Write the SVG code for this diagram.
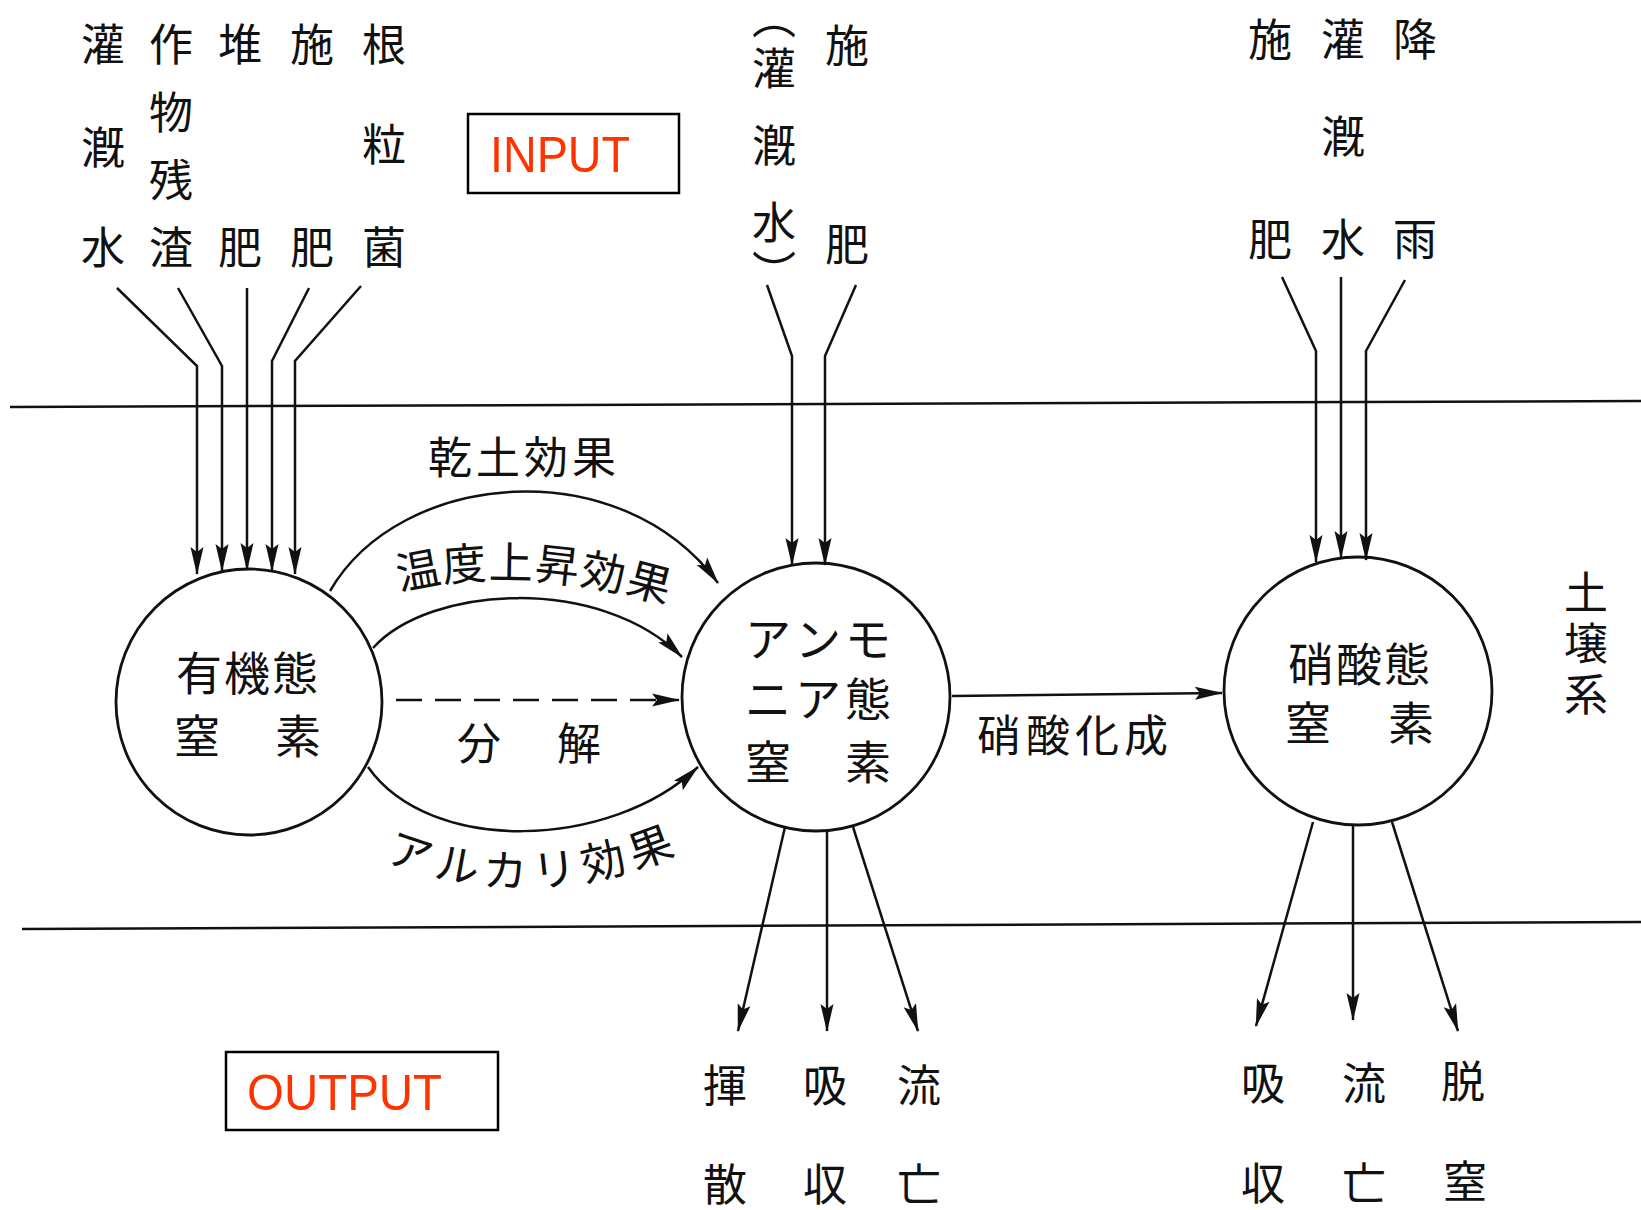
<svg xmlns="http://www.w3.org/2000/svg" width="1641" height="1210" viewBox="0 0 1641 1210">
<style>
.jp { font-family: "Noto Sans CJK JP", "Noto Sans CJK SC", sans-serif; fill: #111; text-anchor: middle; dominant-baseline: central; font-size: 44px; }
.big { font-size: 46px; }
.circ { fill: none; stroke: #111; stroke-width: 2.8; }
.ln { fill: none; stroke: #111; stroke-width: 2.5; }
.arr { marker-end: url(#ah); }
.dash { stroke-dasharray: 26 13; }
.box { fill: none; stroke: #000; stroke-width: 2.5; }
.red { font-family: "Liberation Sans", Arial, sans-serif; fill: #FF3300; font-size: 50px; }
</style>
<defs>
<marker id="ah" markerUnits="userSpaceOnUse" markerWidth="30" markerHeight="16" refX="27" refY="8" orient="auto">
<path d="M0,1.5 L28,8 L0,14.5 L5,8 z" fill="#111"/>
</marker>
<path id="pTemp" d="M385,575 Q520,538 685,590"/>
<path id="pAlk" d="M385,840 Q525,900 680,832"/>
</defs>
<rect width="1641" height="1210" fill="#fff"/>

<g id="soil-boundaries">
<line class="ln" x1="10" y1="407" x2="1641" y2="401"/>
<line class="ln" x1="22" y1="929" x2="1641" y2="922"/>
</g>

<g id="input-label-box">
<rect class="box" x="468" y="114" width="211" height="79"/>
<text class="red" x="490" y="172" textLength="140" lengthAdjust="spacingAndGlyphs">INPUT</text>
</g>
<g id="output-label-box">
<rect class="box" x="226" y="1052" width="272" height="78"/>
<text class="red" x="247" y="1110" textLength="195" lengthAdjust="spacingAndGlyphs">OUTPUT</text>
</g>

<g id="inputs-organic">
<text class="jp" x="103" y="42">灌</text>
<text class="jp" x="103" y="145">漑</text>
<text class="jp" x="103" y="245">水</text>
<text class="jp" x="171" y="42">作</text>
<text class="jp" x="171" y="110">物</text>
<text class="jp" x="171" y="178">残</text>
<text class="jp" x="171" y="245">渣</text>
<text class="jp" x="240" y="42">堆</text>
<text class="jp" x="240" y="245">肥</text>
<text class="jp" x="312" y="42">施</text>
<text class="jp" x="312" y="245">肥</text>
<text class="jp" x="384" y="42">根</text>
<text class="jp" x="384" y="142">粒</text>
<text class="jp" x="384" y="245">菌</text>
</g>

<g id="inputs-ammonium">
<text class="jp" x="774" y="15">︵</text>
<text class="jp" x="774" y="66">灌</text>
<text class="jp" x="774" y="143">漑</text>
<text class="jp" x="774" y="220">水</text>
<text class="jp" x="774" y="270">︶</text>
<text class="jp" x="847" y="43">施</text>
<text class="jp" x="847" y="242">肥</text>
</g>

<g id="inputs-nitrate">
<text class="jp" x="1270" y="37">施</text>
<text class="jp" x="1270" y="237">肥</text>
<text class="jp" x="1343" y="37">灌</text>
<text class="jp" x="1343" y="134">漑</text>
<text class="jp" x="1343" y="237">水</text>
<text class="jp" x="1415" y="37">降</text>
<text class="jp" x="1415" y="237">雨</text>
</g>

<g id="node-organic-n">
<circle class="circ" cx="249" cy="702" r="133"/>
<text class="jp big" x="248" y="670" letter-spacing="2">有機態</text>
<text class="jp big" x="197" y="733">窒</text>
<text class="jp big" x="298" y="733">素</text>
</g>

<g id="node-ammonium-n">
<circle class="circ" cx="816" cy="697" r="134"/>
<text class="jp big" x="768" y="636">ア</text>
<text class="jp big" x="818" y="636">ン</text>
<text class="jp big" x="868" y="636">モ</text>
<text class="jp big" x="768" y="696">ニ</text>
<text class="jp big" x="818" y="696">ア</text>
<text class="jp big" x="868" y="696">態</text>
<text class="jp big" x="768" y="759">窒</text>
<text class="jp big" x="868" y="759">素</text>
</g>

<g id="node-nitrate-n">
<circle class="circ" cx="1358" cy="691" r="134"/>
<text class="jp big" x="1360" y="661" letter-spacing="2">硝酸態</text>
<text class="jp big" x="1308" y="720">窒</text>
<text class="jp big" x="1411" y="720">素</text>
</g>

<g id="soil-system-label">
<text class="jp" x="1586" y="590" font-size="38">土</text>
<text class="jp" x="1586" y="641" font-size="38">壌</text>
<text class="jp" x="1586" y="692" font-size="38">系</text>
</g>

<g id="outputs-ammonium">
<text class="jp" x="725" y="1083">揮</text>
<text class="jp" x="725" y="1182">散</text>
<text class="jp" x="825" y="1083">吸</text>
<text class="jp" x="825" y="1182">収</text>
<text class="jp" x="919" y="1083">流</text>
<text class="jp" x="919" y="1182">亡</text>
</g>

<g id="outputs-nitrate">
<text class="jp" x="1263" y="1081">吸</text>
<text class="jp" x="1263" y="1181">収</text>
<text class="jp" x="1364" y="1081">流</text>
<text class="jp" x="1364" y="1181">亡</text>
<text class="jp" x="1463" y="1079">脱</text>
<text class="jp" x="1465" y="1179">窒</text>
</g>

<g id="connectors">
<polyline class="ln arr" points="117,288 197,366 197,574"/>
<polyline class="ln arr" points="178,288 222,366 222,571"/>
<polyline class="ln arr" points="247,288 247,570"/>
<polyline class="ln arr" points="309,288 272,361 272,571"/>
<polyline class="ln arr" points="361,286 295,361 295,574"/>

<polyline class="ln arr" points="767,285 792,356 792,565"/>
<polyline class="ln arr" points="856,285 825,356 825,565"/>

<polyline class="ln arr" points="1282,277 1316,351 1316,562"/>
<polyline class="ln arr" points="1341,277 1341,558"/>
<polyline class="ln arr" points="1405,280 1366,351 1366,560"/>

<path class="ln arr" d="M330,591 C400,470 620,450 718,583"/>
<path class="ln arr" d="M373,648 C430,585 600,575 682,657"/>
<line class="ln dash arr" x1="396" y1="700" x2="679" y2="700"/>
<path class="ln arr" d="M368,767 C430,855 610,850 698,767"/>
<line class="ln arr" x1="952" y1="696" x2="1222" y2="693"/>

<line class="ln arr" x1="785" y1="827" x2="738" y2="1031"/>
<line class="ln arr" x1="827" y1="830" x2="827" y2="1031"/>
<line class="ln arr" x1="853" y1="827" x2="918" y2="1031"/>

<line class="ln arr" x1="1313" y1="822" x2="1256" y2="1026"/>
<line class="ln arr" x1="1353" y1="826" x2="1353" y2="1020"/>
<line class="ln arr" x1="1392" y1="822" x2="1458" y2="1031"/>
</g>

<g id="connector-labels">
<text class="jp" x="524" y="455" letter-spacing="4">乾土効果</text>
<text class="jp" letter-spacing="3"><textPath href="#pTemp" startOffset="50%">温度上昇効果</textPath></text>
<text class="jp" x="479" y="741">分</text>
<text class="jp" x="579" y="741">解</text>
<text class="jp" font-size="42" letter-spacing="5"><textPath href="#pAlk" startOffset="50%">アルカリ効果</textPath></text>
<text class="jp" x="1075" y="733" letter-spacing="5">硝酸化成</text>
</g>
</svg>
